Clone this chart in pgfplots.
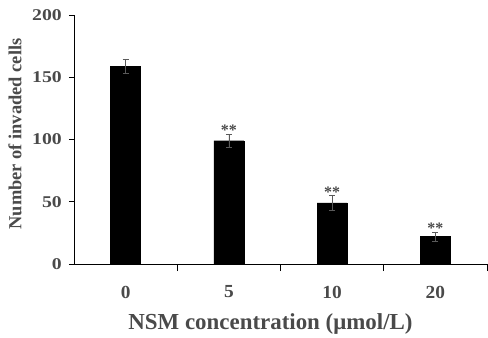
\documentclass[border=0pt]{standalone}
\usepackage{fontspec}
\setmainfont{Liberation Serif}
\usepackage{pgfplots}
\pgfplotsset{compat=1.18}
\definecolor{txtgray}{HTML}{4A4A4A}
\definecolor{errgray}{HTML}{5A5A5A}
\begin{document}
\begin{tikzpicture}
\useasboundingbox (-74bp,-74bp) rectangle (414bp,264bp);
\begin{axis}[
  at={(0,0)}, anchor=south west,
  scale only axis,
  width=413bp, height=249bp,
  xmin=-0.5, xmax=3.5,
  ymin=0, ymax=200,
  axis lines=left,
  axis line style={-, line width=0.9bp},
  xtick={0,1,2,3},
  xticklabels={0,5,10,20},
  minor xtick={0.5,1.5,2.5,3.5},
  ytick={0,50,100,150,200},
  tick align=outside,
  major x tick style={draw=none},
  minor x tick style={line width=0.9bp, black},
  minor tick length=7bp,
  major y tick style={line width=0.9bp, black},
  major tick length=5bp,
  /pgf/number format/assume math mode=true,
  x tick label style={font=\fontsize{18.5}{20}\selectfont\bfseries, text=txtgray, anchor=center, yshift=-23bp, xscale=1.05},
  y tick label style={font=\fontsize{16.5}{18}\selectfont\bfseries, text=txtgray, xshift=-3bp, xscale=1.2},
  ylabel={Number of invaded cells},
  ylabel style={at={(axis description cs:0,0.5)}, anchor=center, yshift=59bp, xshift=5.5bp, font=\fontsize{18.5}{20}\selectfont\bfseries, text=txtgray},
  xlabel={NSM concentration (μmol/L)},
  xlabel style={at={(axis description cs:0.5,0)}, anchor=center, xshift=-10bp, yshift=-60bp, font=\fontsize{23}{25}\selectfont\bfseries, text=txtgray},
  clip=false,
]
\addplot[ybar, bar width=30bp, fill=black, draw=black,
  error bars/.cd, y dir=both, y explicit,
  error bar style={errgray, line width=0.7bp},
  error mark options={errgray, line width=0.7bp, mark size=3bp, rotate=90}]
  table[x=x, y=y, y error=e] {
x y e
0 159 5.5
1 99 5.5
2 49 5.8
3 22 3.6
};
\addplot[draw=none, mark=none,
  nodes near coords={\pgfplotspointmeta},
  point meta=explicit symbolic,
  nodes near coords style={anchor=south, inner sep=0pt, yshift=-2bp, font=\fontsize{16}{17}\selectfont\bfseries, text=txtgray}]
  table[x=x, y=y, meta=m] {
x y m
1 104.5 **
2 54.8 **
3 25.6 **
};
\end{axis}
\end{tikzpicture}
\end{document}
